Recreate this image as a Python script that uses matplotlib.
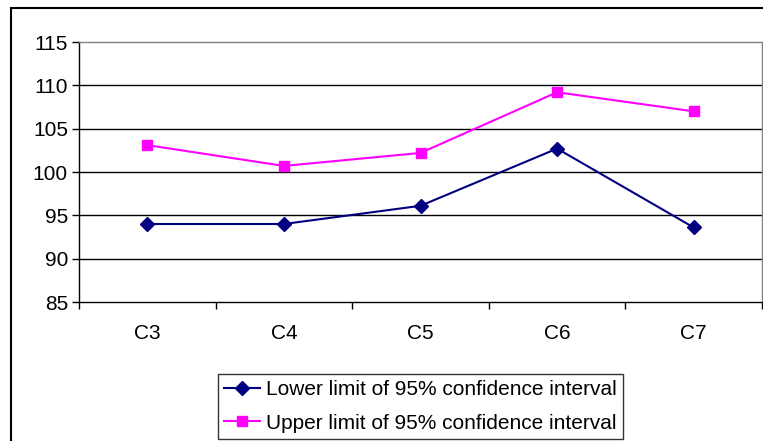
import matplotlib
matplotlib.use("Agg")
import matplotlib.pyplot as plt
from matplotlib.patches import Rectangle
import numpy as np

categories = ["C3", "C4", "C5", "C6", "C7"]
lower_limit = [94.0, 94.0, 96.1, 102.7, 93.6]
upper_limit = [103.1, 100.7, 102.2, 109.2, 107.0]
y_ticks = [85, 90, 95, 100, 105, 110, 115]

plt.rcParams["font.family"] = ["Liberation Sans", "DejaVu Sans"]

W, H = 763, 441
fig = plt.figure(figsize=(W / 100, H / 100), dpi=100)
ax = fig.add_axes([79 / W, 1 - 302 / H, (762 - 79) / W, (302 - 42) / H])

# outer chart frame, running off the right and bottom edges
fig.patches.append(Rectangle((11 / W, -0.1), 1.2, 1 - 8 / H + 0.1, transform=fig.transFigure,
                             fill=False, edgecolor="black", linewidth=1.5, clip_on=False))

x = np.arange(len(categories))
ax.plot(x, lower_limit, color="#000080", linewidth=1.5, marker="D", markersize=7,
        label="Lower limit of 95% confidence interval")
ax.plot(x, upper_limit, color="#ff00ff", linewidth=1.5, marker="s", markersize=7.5,
        label="Upper limit of 95% confidence interval")

ax.set_xlim(-0.5, len(categories) - 0.5)
ax.set_ylim(85, 115)
ax.set_yticks(y_ticks)
ax.set_yticklabels([str(v) for v in y_ticks], fontsize=15)
for v in y_ticks[1:-1]:
    ax.axhline(v, color="black", linewidth=1.0, zorder=0)

ax.set_xticks(np.arange(len(categories) + 1) - 0.5)
ax.set_xticklabels([])
ax.set_xticks(x, minor=True)
ax.set_xticklabels(categories, minor=True, fontsize=15)
ax.tick_params(axis="x", which="major", direction="out", length=5, width=1)
ax.tick_params(axis="x", which="minor", length=0, pad=16)
ax.tick_params(axis="y", direction="out", length=5, width=1, pad=3)

ax.spines["left"].set_color("black")
ax.spines["bottom"].set_color("black")
ax.spines["top"].set_color("#808080")
ax.spines["right"].set_color("#808080")
for s in ax.spines.values():
    s.set_linewidth(1.0)

leg = fig.legend(loc="lower left", bbox_to_anchor=(218 / W, 1 - 439 / H), fontsize=15,
                 frameon=True, fancybox=False, edgecolor="black", handlelength=1.7,
                 borderpad=0.3, labelspacing=0.7, handletextpad=0.3, borderaxespad=0)
leg.get_frame().set_linewidth(1.0)

fig.savefig("out.png", dpi=100)
